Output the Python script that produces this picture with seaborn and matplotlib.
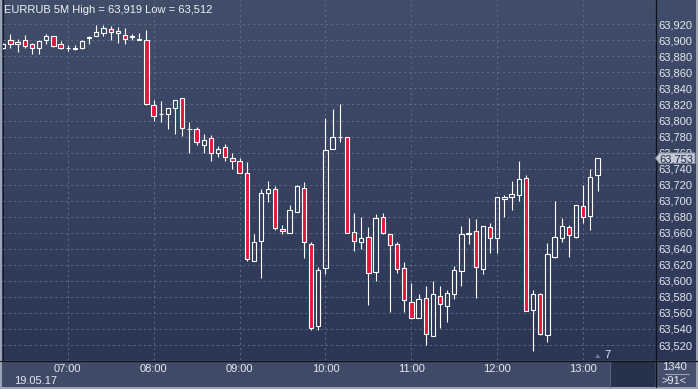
import numpy as np
import matplotlib
matplotlib.use("Agg")
import matplotlib.pyplot as plt
import matplotlib.colors as mcolors
import matplotlib.transforms as mtransforms
from matplotlib.patches import Rectangle, Polygon
from matplotlib import font_manager
import seaborn as sns

# ---------------- data (EURRUB, 5-minute candles, 06:15 .. 13:10) ----------------
opens = [63891, 63901, 63895, 63901, 63896, 63891, 63900, 63905, 63895, 63890,
         63891, 63890, 63903, 63906, 63909, 63914, 63909, 63907, 63904, 63902,
         63901, 63819, 63808, 63808, 63815, 63828, 63790, 63790, 63770, 63778,
         63760, 63767, 63753, 63750, 63735, 63625, 63650, 63709, 63715, 63665,
         63660, 63686, 63716, 63646, 63544, 63616, 63764, 63780, 63780, 63661,
         63648, 63655, 63611, 63680, 63658, 63646, 63616, 63574, 63554, 63579,
         63531, 63581, 63569, 63584, 63612, 63658, 63662, 63615, 63667, 63653,
         63702, 63705, 63707, 63728, 63564, 63583, 63532, 63630, 63654, 63667,
         63655, 63693, 63681, 63732]
highs = [63897, 63908, 63902, 63907, 63897, 63900, 63908, 63906, 63899, 63894,
         63894, 63900, 63906, 63919, 63919, 63918, 63917, 63915, 63908, 63909,
         63913, 63825, 63824, 63816, 63825, 63828, 63798, 63792, 63783, 63782,
         63768, 63771, 63759, 63753, 63748, 63658, 63714, 63724, 63718, 63670,
         63694, 63720, 63723, 63648, 63617, 63803, 63814, 63821, 63780, 63685,
         63680, 63667, 63684, 63685, 63659, 63648, 63624, 63597, 63583, 63593,
         63600, 63594, 63588, 63618, 63668, 63678, 63677, 63669, 63672, 63704,
         63707, 63725, 63750, 63732, 63589, 63585, 63647, 63699, 63679, 63670,
         63695, 63720, 63739, 63753]
lows = [63889, 63891, 63885, 63891, 63883, 63883, 63895, 63892, 63889, 63887,
        63888, 63889, 63895, 63905, 63906, 63900, 63897, 63896, 63900, 63900,
        63819, 63800, 63798, 63790, 63783, 63781, 63760, 63770, 63760, 63750,
        63755, 63750, 63739, 63734, 63625, 63625, 63603, 63698, 63664, 63658,
        63660, 63686, 63628, 63539, 63539, 63608, 63764, 63773, 63660, 63637,
        63640, 63570, 63600, 63659, 63561, 63610, 63561, 63552, 63554, 63520,
        63531, 63541, 63549, 63578, 63594, 63646, 63579, 63608, 63635, 63635,
        63680, 63689, 63700, 63562, 63512, 63532, 63524, 63629, 63648, 63630,
        63654, 63672, 63664, 63712]
closes = [63896, 63895, 63898, 63893, 63890, 63899, 63906, 63893, 63891, 63890,
          63889, 63899, 63904, 63911, 63915, 63910, 63912, 63902, 63905, 63901,
          63820, 63805, 63808, 63816, 63825, 63791, 63790, 63773, 63776, 63760,
          63765, 63754, 63750, 63735, 63627, 63649, 63710, 63714, 63666, 63662,
          63689, 63718, 63649, 63541, 63614, 63763, 63780, 63780, 63660, 63650,
          63654, 63610, 63679, 63660, 63645, 63615, 63576, 63554, 63578, 63534,
          63583, 63571, 63585, 63614, 63659, 63660, 63617, 63668, 63654, 63704,
          63705, 63708, 63727, 63563, 63584, 63534, 63633, 63655, 63668, 63657,
          63695, 63680, 63730, 63753]
hour_index = [9, 21, 33, 45, 57, 69, 81]
hour_labels = ["07:00", "08:00", "09:00", "10:00", "11:00", "12:00", "13:00"]
price_ticks = list(range(63520, 63921, 20))
title_text = "EURRUB 5M High = 63,919 Low = 63,512"
date_label = "19.05.17"
last_price = 63753
corner_top = "1340"
corner_bottom = ">91<"
marker_label = "7"

# ---------------- style ----------------
sns.set_style("dark")
names = {f.name for f in font_manager.fontManager.ttflist}
fam = "Liberation Sans Narrow" if "Liberation Sans Narrow" in names else "Liberation Sans"
plt.rcParams["font.family"] = [fam, "DejaVu Sans"]

W, H = 698, 389
fig = plt.figure(figsize=(W / 100, H / 100), dpi=100)
fig.patch.set_facecolor("#3e4a66")

# background axes in pixel coordinates
bg = fig.add_axes([0, 0, 1, 1])
bg.axis("off")
top = np.array(mcolors.to_rgb("#414e6a"))
bot = np.array(mcolors.to_rgb("#2b3656"))
t = np.linspace(0, 1, 256)[:, None, None]
img = top + (bot - top) * t
bg.imshow(img, extent=(0, W, 360, 0), aspect="auto", interpolation="bilinear")
bg.add_patch(Rectangle((0, 361), W, 28, color="#3e4a66", lw=0))
bg.add_patch(Rectangle((610, 361), 45, 26, color="#26314c", lw=0))
bg.add_patch(Rectangle((656, 361), 40, 26, color="#44506c", lw=0))
bg.plot([0, W], [360.5, 360.5], color="#0c111c", lw=0.9)
bg.plot([655.5, 655.5], [0, 387], color="#0c111c", lw=0.9)
bg.plot([609.5, 609.5], [362, 387], color="#56627c", lw=0.8)
bg.plot([2.5, 2.5], [0, 360], color="#141a28", lw=0.8)
# outer light frame
bg.add_patch(Rectangle((0, 0), 2, H, color="#9ba4b4", lw=0))
bg.add_patch(Rectangle((696, 0), 2, H, color="#9ba4b4", lw=0))
bg.add_patch(Rectangle((0, 387), W, 2, color="#9ba4b4", lw=0))
bg.set_xlim(0, W)
bg.set_ylim(H, 0)

txt = "#e4e8f0"
bg.text(3.5, 12.5, title_text, color="#eef1f6", fontsize=8, va="baseline", ha="left")
bg.text(14, 384, date_label, color=txt, fontsize=8, va="baseline", ha="left")
bg.text(674, 369.5, corner_top, color=txt, fontsize=8, va="baseline", ha="center")
bg.plot([665, 689], [373.5, 373.5], color="#9aa3b5", lw=0.8)
bg.text(674, 383.5, corner_bottom, color=txt, fontsize=8, va="baseline", ha="center")
bg.text(604, 358.5, marker_label, color=txt, fontsize=8, va="baseline", ha="left")
bg.add_patch(Polygon([(595, 358), (600.5, 358), (597.75, 354)], closed=True,
                     color="#6b7690", lw=0))

# ---------------- price axes ----------------
ax = fig.add_axes([3 / W, 29 / H, 652 / W, 360 / H])
ax.patch.set_alpha(0)
ax.set_xlim(-0.036, 91.03)
ax.set_ylim(63501.3, 63950.3)
for s in ax.spines.values():
    s.set_visible(False)
ax.set_yticks(price_ticks)
ax.set_yticklabels([f"{p // 1000},{p % 1000:03d}" for p in price_ticks])
ax.yaxis.tick_right()
ax.tick_params(axis="y", length=0, pad=2.2, labelsize=8, labelcolor=txt)
ax.set_xticks(hour_index)
ax.set_xticklabels(hour_labels)
ax.tick_params(axis="x", length=0, pad=3.2, labelsize=8, labelcolor=txt)
ax.grid(True, color="#5b6987", linestyle=(0, (2.2, 3)), linewidth=0.72)
ax.set_axisbelow(True)

idx = np.arange(len(opens))
o = np.array(opens, dtype=float)
c = np.array(closes, dtype=float)
hi = np.array(highs, dtype=float)
lo = np.array(lows, dtype=float)
body_top = np.maximum(o, c)
body_bot = np.minimum(o, c)
up = c >= o

ax.vlines(idx, body_top, hi, color="white", linewidth=0.8, zorder=3)
ax.vlines(idx, lo, body_bot, color="white", linewidth=0.8, zorder=3)
fills = ["none" if u else "#e3163c" for u in up]
ax.bar(idx, body_top - body_bot, bottom=body_bot, width=0.6, color=fills,
       edgecolor="white", linewidth=0.8, zorder=4)

# last price marker on the price scale
trans = mtransforms.blended_transform_factory(bg.transData, ax.transData)
d = 6.6
box = Polygon([(655.5, last_price), (659.5, last_price + d), (695, last_price + d),
               (695, last_price - d), (659.5, last_price - d)], closed=True,
              transform=trans, facecolor="#c5c9d1", edgecolor="#7d8594", lw=0.7,
              clip_on=False, zorder=10)
ax.add_patch(box)
ax.text(659.5, last_price, f"{last_price // 1000},{last_price % 1000:03d}", transform=trans,
        color="#1b2a55", fontsize=8, va="center_baseline", ha="left", zorder=11, clip_on=False)

fig.savefig("out.png", dpi=100)
